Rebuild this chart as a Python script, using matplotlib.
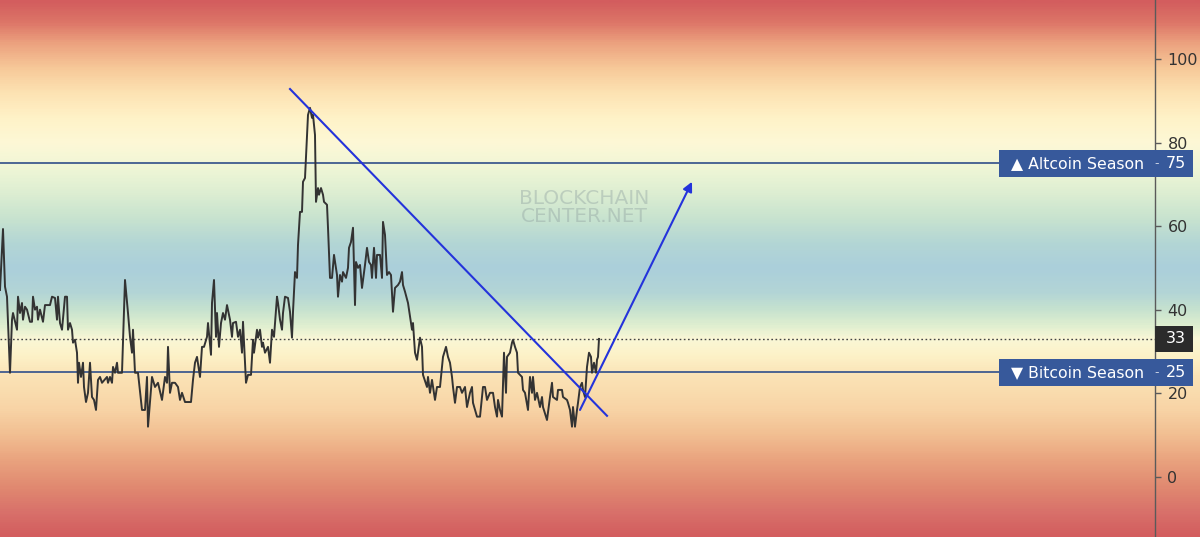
import numpy as np
import matplotlib
matplotlib.use("Agg")
import matplotlib.pyplot as plt
from matplotlib.colors import LinearSegmentedColormap
from matplotlib.patches import Rectangle

# index series (day position vs. altcoin season index value)
days = [0, 3, 5, 7, 10, 12, 13, 17, 18, 20, 22, 23, 25, 27, 30, 32, 33, 35, 37, 38,
        40, 43, 45, 50, 52, 55, 57, 58, 60, 62, 65, 67, 68, 70, 72, 73, 75, 77, 78, 79,
        81, 83, 84, 86, 88, 90, 92, 94, 96, 98, 100, 102, 107, 108, 110, 112, 113, 115, 117, 118,
        122, 125, 128, 130, 132, 133, 135, 138, 142, 145, 147, 148, 152, 155, 158, 162, 165, 167, 168, 170,
        172, 175, 178, 180, 182, 185, 188, 191, 193, 195, 197, 200, 202, 204, 207, 208, 211, 212, 214, 216,
        217, 219, 221, 223, 225, 227, 230, 232, 233, 236, 238, 240, 242, 243, 246, 248, 251, 253, 254, 257,
        258, 260, 262, 263, 265, 268, 270, 272, 274, 277, 278, 280, 282, 283, 285, 288, 290, 292, 293, 295,
        297, 298, 300, 302, 303, 305, 307, 308, 310, 312, 313, 315, 316, 318, 319, 321, 323, 324, 327, 328,
        330, 332, 334, 337, 338, 340, 342, 343, 346, 348, 349, 351, 353, 355, 356, 358, 360, 362, 365, 367,
        369, 371, 372, 374, 376, 377, 380, 382, 383, 385, 387, 389, 391, 393, 395, 398, 400, 402, 403, 405,
        408, 412, 413, 415, 417, 420, 422, 423, 427, 428, 430, 432, 435, 437, 440, 443, 446, 448, 450, 452,
        453, 455, 457, 460, 462, 465, 467, 470, 472, 473, 477, 480, 483, 485, 487, 490, 493, 495, 497, 498,
        500, 502, 504, 506, 507, 510, 512, 513, 515, 517, 518, 522, 523, 525, 528, 530, 532, 533, 535, 537,
        540, 542, 543, 547, 550, 552, 553, 557, 558, 562, 563, 567, 568, 570, 572, 573, 575, 577, 578, 580,
        582, 583, 585, 587, 589, 591, 592, 594, 596, 597, 598, 599]
index = [44.7, 59.3, 45.5, 43.1, 24.9, 37.6, 39.2, 35.2, 43.1, 39.2, 41.6, 37.6, 40.7, 40.0, 37.1, 37.1, 43.1, 40.0, 40.7, 37.6,
         40.0, 37.1, 41.1, 41.1, 43.1, 42.8, 37.6, 43.1, 36.8, 35.2, 43.1, 43.1, 35.2, 36.8, 35.2, 32.1, 32.8, 29.7, 22.5, 27.3,
         23.9, 27.3, 21.5, 17.9, 20.1, 27.3, 19.1, 18.4, 16.0, 23.2, 23.9, 22.5, 23.9, 22.5, 23.9, 22.5, 26.3, 24.9, 27.3, 24.9,
         24.9, 47.1, 39.2, 33.5, 29.7, 35.2, 24.9, 24.9, 16.0, 16.0, 23.9, 12.0, 23.9, 21.5, 22.5, 18.4, 23.9, 22.5, 31.1, 20.1,
         22.5, 22.5, 21.5, 18.4, 20.1, 17.9, 17.9, 17.9, 23.2, 27.3, 28.7, 23.9, 31.1, 31.1, 33.5, 36.8, 29.2, 41.6, 47.1, 33.5,
         39.2, 31.1, 36.8, 39.2, 37.6, 41.1, 37.6, 33.5, 36.8, 37.1, 33.5, 35.2, 29.7, 37.1, 22.5, 24.4, 24.4, 32.8, 29.7, 35.2,
         33.3, 35.2, 31.1, 32.1, 29.7, 31.1, 27.3, 35.2, 33.5, 43.1, 41.6, 37.6, 35.2, 39.2, 43.1, 42.8, 39.5, 33.3, 39.5, 49.0,
         47.6, 55.5, 63.4, 63.4, 70.6, 71.5, 81.8, 86.6, 88.3, 85.9, 86.6, 81.8, 65.8, 69.1, 67.5, 69.1, 67.5, 65.8, 65.1, 59.6,
         47.6, 47.6, 53.1, 48.3, 43.1, 48.3, 46.7, 49.0, 47.6, 50.0, 54.8, 56.2, 59.6, 41.1, 51.4, 50.0, 50.7, 45.2, 50.7, 54.8,
         51.4, 50.7, 47.6, 54.8, 47.6, 53.1, 53.1, 47.6, 61.0, 57.9, 48.3, 49.0, 48.3, 39.5, 45.2, 45.9, 46.7, 49.0, 45.9, 44.3,
         41.6, 35.2, 36.8, 29.7, 28.0, 33.3, 31.1, 24.4, 21.5, 23.9, 20.1, 23.2, 18.4, 21.5, 21.5, 28.7, 31.1, 28.7, 27.3, 23.9,
         21.5, 17.7, 21.5, 21.5, 20.1, 21.5, 16.7, 20.1, 21.5, 17.7, 14.4, 14.4, 21.5, 21.5, 18.4, 20.1, 20.1, 16.7, 14.4, 18.4,
         16.0, 14.4, 29.7, 20.1, 28.7, 29.7, 32.1, 32.8, 31.1, 29.7, 24.9, 23.9, 20.8, 20.1, 16.0, 23.9, 20.1, 23.9, 18.4, 20.1,
         16.7, 19.1, 16.7, 13.6, 19.1, 22.5, 19.1, 18.4, 20.8, 20.8, 19.1, 18.4, 17.7, 16.0, 12.0, 16.7, 12.0, 16.0, 17.7, 21.5,
         22.5, 20.8, 19.1, 26.3, 29.7, 28.7, 24.9, 27.3, 24.9, 28.0, 28.7, 33.0]

current = 33
altcoin_level = 75
bitcoin_level = 25
yticks = [0, 20, 40, 60, 80, 100]

# hand drawn annotations
trend_x = [290, 607]
trend_y = [92.8, 14.6]
arrow_start = (580, 16.0)
arrow_end = (692, 70.6)

# background band colours
bg_levels = [-14.4, -9, -3, 4, 10, 16, 24, 29, 33, 36, 40, 44, 50, 56, 62, 68, 74, 80, 86, 92, 98, 104, 109, 114.1]
bg_colors = ["#d35d5e", "#d8706a", "#e08870", "#eaa47f", "#f2bf92", "#f8d4a6", "#fbe3b6", "#fdf2c8",
             "#f9f7d6", "#e0efd0", "#c6e2cf", "#b3d5d6", "#abcfdb", "#b3d6d5", "#c8e3cf", "#ddeed2",
             "#eff6d6", "#fdf8d6", "#fff2c8", "#fde3b3", "#f7c999", "#eca27f", "#dd7668", "#d35d5e"]

ylo, yhi = -14.4, 114.1
xmax = 1155

fig = plt.figure(figsize=(12, 5.37), dpi=100)

# background gradient over the whole figure
ax_bg = fig.add_axes([0, 0, 1, 1])
pos = [(v - ylo) / (yhi - ylo) for v in bg_levels]
cmap = LinearSegmentedColormap.from_list("bands", list(zip(pos, bg_colors)))
grad = np.linspace(ylo, yhi, 600).reshape(-1, 1)
ax_bg.imshow(grad, cmap=cmap, aspect="auto", origin="lower",
             extent=[0, 1, ylo, yhi], vmin=ylo, vmax=yhi)
ax_bg.set_ylim(ylo, yhi)
ax_bg.axis("off")

ax = fig.add_axes([0, 0, xmax / 1200, 1])
ax.set_facecolor("none")
ax.set_xlim(0, xmax)
ax.set_ylim(ylo, yhi)
for s in ["left", "top", "bottom"]:
    ax.spines[s].set_visible(False)
ax.spines["right"].set_color("#5a5a5a")
ax.spines["right"].set_linewidth(1)
ax.set_xticks([])
ax.yaxis.tick_right()
ax.set_yticks(yticks)
ax.tick_params(axis="y", direction="out", length=4, width=1, color="#5a5a5a",
               labelsize=11.5, labelcolor="#333333", pad=5)

# watermark
ax.text(584, 64.5, "BLOCKCHAIN\nCENTER.NET", ha="center", va="center", fontsize=14.5,
        color="#8e9f9f", alpha=0.4, linespacing=0.9)

# levels
ax.axhline(altcoin_level, color="#3f5b8e", lw=1.3, zorder=2)
ax.axhline(bitcoin_level, color="#3f5b8e", lw=1.3, zorder=2)
ax.axhline(current, color="#444444", lw=1, ls=(0, (1.2, 1.8)), zorder=2)

# index line
ax.plot(days, index, color="#333333", lw=1.4, zorder=3)

# trend line and arrow
ax.plot(trend_x, trend_y, color="#2433db", lw=1.5, zorder=4)
ax.annotate("", xy=arrow_end, xytext=arrow_start,
            arrowprops=dict(arrowstyle="-|>", color="#2433db", lw=1.5,
                            mutation_scale=14, shrinkA=0, shrinkB=0), zorder=4)

# labels on the price scale
def level_box(y, text, value, color):
    ax.add_patch(Rectangle((999, y - 3.3), 194, 6.6, facecolor=color, edgecolor="none",
                           clip_on=False, zorder=5))
    ax.text(1011, y, text, ha="left", va="center", fontsize=11.3, color="white",
            zorder=6, clip_on=False)
    ax.text(1157, y, "-", ha="center", va="center", fontsize=9, color="#c9d2e4",
            zorder=6, clip_on=False)
    ax.text(1166, y, value, ha="left", va="center", fontsize=11.5, color="white",
            zorder=6, clip_on=False)

level_box(altcoin_level, "\u25B2 Altcoin Season", str(altcoin_level), "#37599b")
level_box(bitcoin_level, "\u25BC Bitcoin Season", str(bitcoin_level), "#37599b")

ax.add_patch(Rectangle((1155, current - 3.1), 38, 6.2, facecolor="#2b2b2b",
                       edgecolor="none", clip_on=False, zorder=5))
ax.text(1166, current, str(current), ha="left", va="center", fontsize=11.5,
        color="white", zorder=6, clip_on=False)

fig.savefig("out.png", dpi=100)
